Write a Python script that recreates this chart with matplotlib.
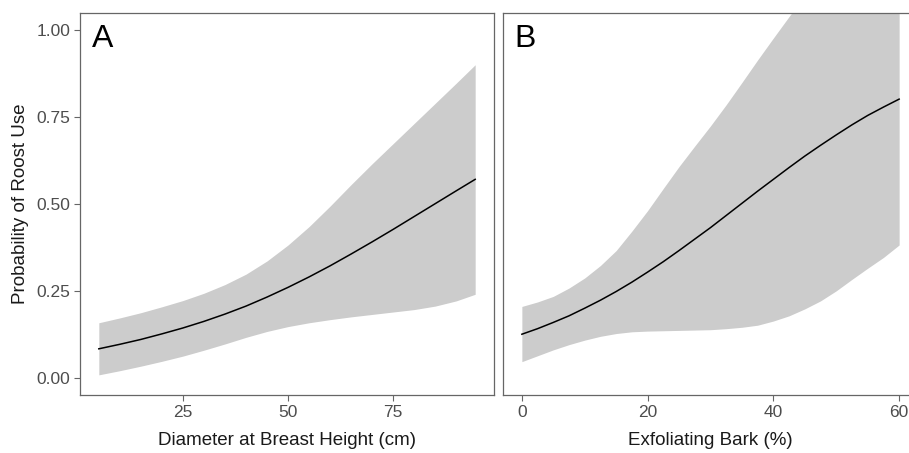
import matplotlib.pyplot as plt
import numpy as np

plt.rcParams['font.family'] = ['Liberation Sans', 'DejaVu Sans']

# panel A: diameter at breast height (cm)
dbh = [5, 10, 15, 20, 25, 30, 35, 40, 45, 50, 55, 60, 65, 70, 75, 80, 85, 90, 94.5]
dbh_fit = [0.083, 0.096, 0.110, 0.126, 0.143, 0.162, 0.183, 0.206, 0.232, 0.260,
           0.290, 0.322, 0.356, 0.391, 0.427, 0.464, 0.501, 0.538, 0.571]
dbh_upper = [0.158, 0.172, 0.187, 0.204, 0.222, 0.243, 0.268, 0.298, 0.336, 0.382,
             0.435, 0.494, 0.556, 0.616, 0.674, 0.732, 0.790, 0.848, 0.901]
dbh_lower = [0.008, 0.020, 0.033, 0.047, 0.062, 0.079, 0.097, 0.116, 0.133, 0.147,
             0.158, 0.167, 0.175, 0.182, 0.189, 0.196, 0.206, 0.221, 0.240]

# panel B: exfoliating bark (%)
bark = [0, 2.5, 5, 7.5, 10, 12.5, 15, 17.5, 20, 22.5, 25, 27.5, 30, 32.5, 35,
        37.5, 40, 42.5, 45, 47.5, 50, 52.5, 55, 57.5, 60]
bark_fit = [0.125, 0.141, 0.159, 0.178, 0.200, 0.223, 0.248, 0.275, 0.304, 0.334,
            0.366, 0.399, 0.432, 0.467, 0.502, 0.537, 0.571, 0.605, 0.638, 0.669,
            0.699, 0.728, 0.755, 0.779, 0.802]
bark_upper = [0.205, 0.218, 0.234, 0.258, 0.287, 0.323, 0.366, 0.422, 0.481, 0.545,
              0.608, 0.667, 0.725, 0.786, 0.850, 0.915, 0.978, 1.040, 1.100, 1.150,
              1.200, 1.240, 1.280, 1.310, 1.340]
bark_lower = [0.046, 0.063, 0.080, 0.095, 0.108, 0.119, 0.127, 0.132, 0.134, 0.135,
              0.136, 0.137, 0.138, 0.141, 0.145, 0.151, 0.163, 0.178, 0.198, 0.221,
              0.250, 0.283, 0.315, 0.346, 0.382]

y_ticks = [0.0, 0.25, 0.5, 0.75, 1.0]
y_labels = ['0.00', '0.25', '0.50', '0.75', '1.00']

fig = plt.figure(figsize=(9.09, 4.53), dpi=100)
ax1 = fig.add_axes([80 / 909, 1 - 395 / 453, 414 / 909, 382 / 453])
ax2 = fig.add_axes([503 / 909, 1 - 395 / 453, 415 / 909, 382 / 453])

panels = [
    (ax1, dbh, dbh_fit, dbh_lower, dbh_upper, 'Diameter at Breast Height (cm)', 'A', [25, 50, 75]),
    (ax2, bark, bark_fit, bark_lower, bark_upper, 'Exfoliating Bark (%)', 'B', [0, 20, 40, 60]),
]

for ax, x, fit, lo, hi, xlab, letter, xt in panels:
    ax.fill_between(x, lo, hi, color='#cccccc', lw=0)
    ax.plot(x, fit, color='black', lw=1.1)
    span = x[-1] - x[0]
    ax.set_xlim(x[0] - 0.05 * span, x[-1] + 0.05 * span)
    ax.set_ylim(-0.05, 1.05)
    ax.set_xticks(xt)
    ax.set_xlabel(xlab, fontsize=13.5, color='#1a1a1a', labelpad=9)
    ax.tick_params(colors='#666666', labelcolor='#4d4d4d', labelsize=12.5,
                   length=4, width=0.8, pad=3)
    for s in ax.spines.values():
        s.set_color('#666666')
        s.set_linewidth(0.9)
    ax.text(0.028, 0.97, letter, transform=ax.transAxes, fontsize=23,
            va='top', ha='left', color='black')

ax1.set_yticks(y_ticks)
ax1.set_yticklabels(y_labels)
ax1.set_ylabel('Probability of Roost Use', fontsize=13.5, color='#1a1a1a', labelpad=5)
ax2.set_yticks(y_ticks)
ax2.tick_params(axis='y', left=False, labelleft=False)

fig.savefig('out.png', dpi=100)
